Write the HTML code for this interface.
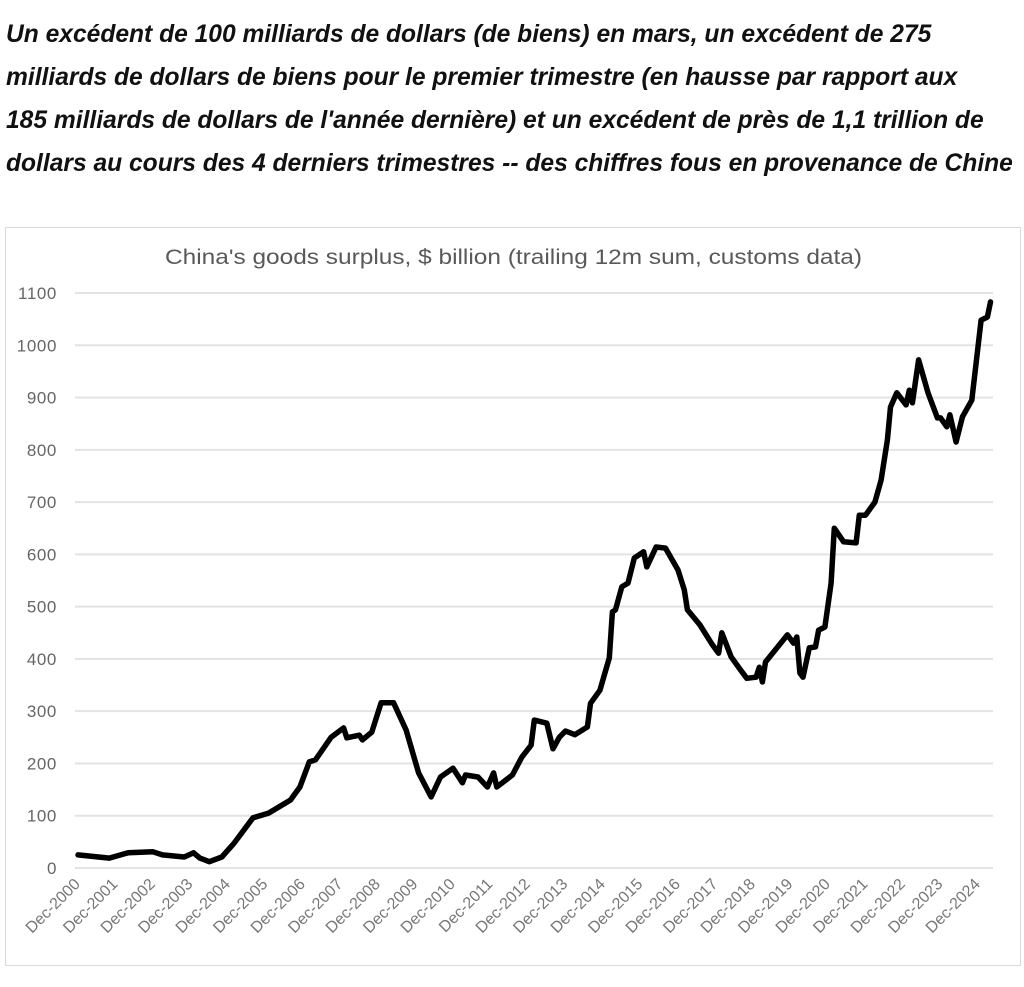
<!DOCTYPE html>
<html><head><meta charset="utf-8">
<style>
body{margin:0;background:#fff;width:1024px;height:987px;overflow:hidden;position:relative;font-family:"Liberation Sans",sans-serif;}
.h{position:absolute;left:6px;font-weight:bold;font-style:italic;font-size:24.6px;color:#111;white-space:nowrap;}
</style></head><body>
<div>
<div class="h" style="top:21px">Un excédent de 100 milliards de dollars (de biens) en mars, un excédent de 275</div>
<div class="h" style="top:64px">milliards de dollars de biens pour le premier trimestre (en hausse par rapport aux</div>
<div class="h" style="top:107px">185 milliards de dollars de l'année dernière) et un excédent de près de 1,1 trillion de</div>
<div class="h" style="top:150px">dollars au cours des 4 derniers trimestres -- des chiffres fous en provenance de Chine</div>
</div>
<svg id="chart" width="1024" height="987" style="position:absolute;left:0;top:0">
<rect x="5.5" y="227.5" width="1015" height="738" fill="#fff" stroke="#d9d9d9"/>
<text x="165" y="264" textLength="697" lengthAdjust="spacingAndGlyphs" font-size="21.5" fill="#595959" font-family="Liberation Sans, sans-serif">China's goods surplus, $ billion (trailing 12m sum, customs data)</text>
<g id="grid"></g><g id="ylab"></g><g id="xlab"></g><g id="line"></g>
</svg>
<script>
const yTicks=[0,100,200,300,400,500,600,700,800,900,1000,1100];
const xTickLabels=["Dec-2000","Dec-2001","Dec-2002","Dec-2003","Dec-2004","Dec-2005","Dec-2006","Dec-2007","Dec-2008","Dec-2009","Dec-2010","Dec-2011","Dec-2012","Dec-2013","Dec-2014","Dec-2015","Dec-2016","Dec-2017","Dec-2018","Dec-2019","Dec-2020","Dec-2021","Dec-2022","Dec-2023","Dec-2024"];
const months=[0,10,16,24,27,34,37,39,42,46,50,56,61,68,71,74,76,81,85,86,90,91,94,97,101,105,109,113,116,120,123,124,128,131,133,134,139,142,145,146,150,152,154,156,159,163,164,167,170,171,172,174,176,178,181,182,185,188,192,194,195,199,203,205,206,209,212,214,217,218,219,220,227,229,230,231,232,234,236,237,239,241,242,245,249,250,252,255,257,259,260,262,265,266,267,269,272,275,276,278,279,281,283,286,289,291,292];
const values=[25,19,29,31,25,21,29,19,12,21,48,96,105,130,155,203,207,250,268,249,254,245,260,316,316,264,182,136,174,191,163,178,174,155,182,155,178,212,235,283,277,228,250,262,255,270,315,340,402,490,494,538,545,593,605,576,614,612,570,532,494,465,427,411,450,404,379,363,365,384,356,394,446,430,442,373,365,421,423,455,461,545,650,624,622,675,675,700,742,819,882,909,886,914,890,972,909,861,861,844,867,815,863,895,1048,1054,1083];
const NS="http://www.w3.org/2000/svg";
const x0=78,pxPerMonth=37.5/12,y0=868,pxPerUnit=575/1100,gridL=75,gridR=993;
const X=m=>x0+m*pxPerMonth, Y=v=>y0-v*pxPerUnit;
function mk(t,a,p){const e=document.createElementNS(NS,t);for(const k in a)e.setAttribute(k,a[k]);p.appendChild(e);return e;}
const grid=document.getElementById('grid'),yl=document.getElementById('ylab'),xl=document.getElementById('xlab'),ln=document.getElementById('line');
yTicks.forEach(v=>{
 const g=mk('line',{x1:gridL,x2:gridR,y1:Y(v),y2:Y(v),stroke:'#e3e3e3','stroke-width':2},grid);
 
 
 const t=mk('text',{x:57,y:Y(v)+6,'text-anchor':'end','font-size':17,'letter-spacing':'0.6',fill:'#666','font-family':'Liberation Sans, sans-serif'},yl);
 t.textContent=v;
 
 
});
xTickLabels.forEach((s,i)=>{
 const x=X(i*12)+3,y=885;
 const t=mk('text',{x:x,y:y,'text-anchor':'end','font-size':16,fill:'#777','font-family':'Liberation Sans, sans-serif',transform:'rotate(-45 '+x+' '+y+')'},xl);
 t.textContent=s;
 
 
});
const d=months.map((m,i)=>(i?'L':'M')+X(m).toFixed(1)+' '+Y(values[i]).toFixed(1)).join(' ');
const p=mk('path',{d:d,fill:'none',stroke:'#000','stroke-width':5.5,'stroke-linejoin':'round','stroke-linecap':'round'},ln);


</script>
</body></html>
